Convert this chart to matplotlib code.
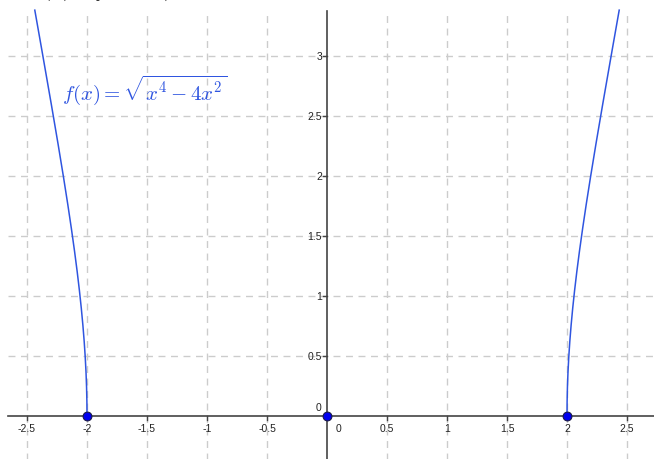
import matplotlib.pyplot as plt
import numpy as np

plt.rcParams['mathtext.fontset'] = 'cm'
plt.rcParams['font.family'] = ['Liberation Sans', 'DejaVu Sans']

# данные
x_ticks = [-2.5, -2, -1.5, -1, -0.5, 0.5, 1, 1.5, 2, 2.5]
y_ticks = [0.5, 1, 1.5, 2, 2.5, 3]
point_x = [-2, 0, 2]
point_y = [0, 0, 0]
x_branch_end = 2.435   # где кривая уходит за верх оси
y_top_axis = 3.375

def f(x):
    return np.sqrt(np.maximum(x**4 - 4 * x**2, 0))

fig = plt.figure(figsize=(6.54, 4.60), dpi=100)
ax = fig.add_axes([0, 0, 1, 1])
ax.set_xlim(-327 / 120, 327 / 120)
ax.set_ylim(-43 / 120, 417 / 120)
ax.axis('off')

grid_col = '#cccccc'
x_left = -2.66
for gx in x_ticks:
    ax.plot([gx, gx], [-1, y_top_axis], color=grid_col, lw=1, ls=(0, (5, 4)), zorder=1)
for gy in y_ticks:
    ax.plot([x_left, 3], [gy, gy], color=grid_col, lw=1, ls=(0, (5, 4)), zorder=1)

# оси
ax.plot([x_left, 3], [0, 0], color='#444444', lw=1.2, zorder=2)
ax.plot([0, 0], [-1, y_top_axis], color='#444444', lw=1.2, zorder=2)

for gx in x_ticks:
    ax.plot([gx, gx], [0, -0.03], color='#444444', lw=1, zorder=2)
    ax.text(gx, -0.06, f'{gx:g}', ha='center', va='top', fontsize=7.5, color='#222222')
for gy in y_ticks:
    ax.plot([0, -0.03], [gy, gy], color='#444444', lw=1, zorder=2)
    ax.text(-0.04, gy, f'{gy:g}', ha='right', va='center', fontsize=7.5, color='#222222')
ax.text(-0.045, 0.03, '0', ha='right', va='bottom', fontsize=7.5, color='#222222')
ax.text(0.07, -0.06, '0', ha='left', va='top', fontsize=7.5, color='#222222')

# кривая
xr = 2 + (x_branch_end - 2) * np.linspace(0, 1, 400) ** 2
yr = f(xr)
curve_col = '#2f55e0'
ax.plot(xr, yr, color=curve_col, lw=1.1, zorder=3)
ax.plot(-xr, yr, color=curve_col, lw=1.1, zorder=3)

ax.scatter(point_x, point_y, s=40, color='#0000ee', edgecolors='#1a1a4a', linewidths=0.8, zorder=4)

ax.text(-2.21, 2.72, r'$f(x) = \sqrt{x^4 - 4x^2}$', color=curve_col, fontsize=15,
        ha='left', va='center')

# обрезанная подпись сверху (в оригинале видны только низы символов)
ax.text(-2.52, 3.505, r'$D(x) = [2, +\infty)$', color='#111111', fontsize=15,
        ha='left', va='baseline')

fig.savefig('out.png', dpi=100)
